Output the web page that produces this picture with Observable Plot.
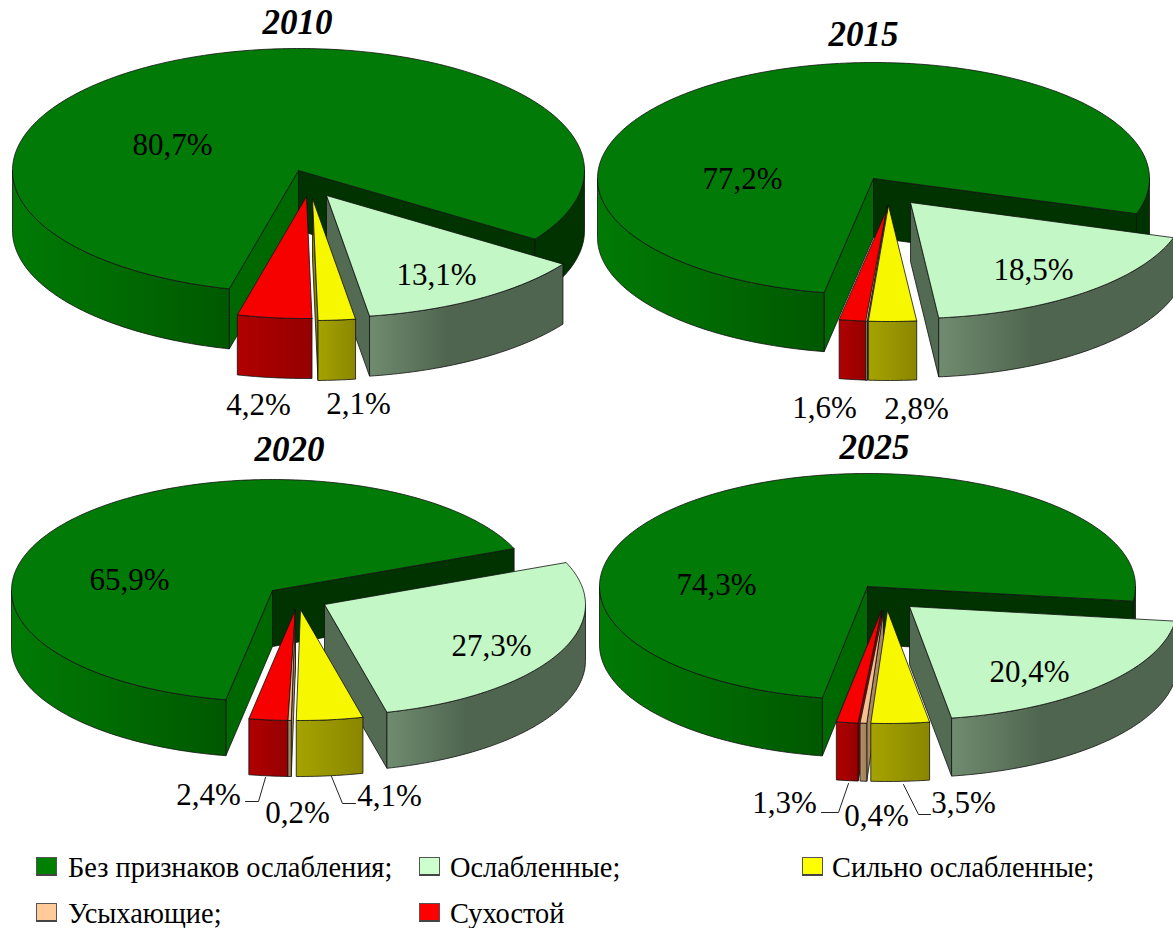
<!DOCTYPE html>
<html><head><meta charset="utf-8">
<script src="https://cdn.jsdelivr.net/npm/d3@7"></script>
<script src="https://cdn.jsdelivr.net/npm/@observablehq/plot@0.6"></script>
<style>
html,body{margin:0;padding:0;background:#fff}
#wrap{position:relative;width:1173px;height:928px;overflow:hidden;font-family:"Liberation Serif",serif;color:#000}
#chart{position:absolute;left:0;top:0}
.lg{position:absolute;font-size:28.4px;line-height:30px;white-space:nowrap;transform-origin:0 50%}
.sw{position:absolute;width:21px;height:19px;box-sizing:border-box;border:1px solid #555;border-bottom:2px solid #444}
</style></head><body>
<div id="wrap"><div id="chart"></div></div>
<script>
// ---- data ----
const categories = ["Без признаков ослабления","Ослабленные","Сильно ослабленные","Усыхающие","Сухостой"];
const legendLabels = ["Без признаков ослабления;","Ослабленные;","Сильно ослабленные;","Усыхающие;","Сухостой"];
const years = ["2010","2015","2020","2025"];
const values2010 = [80.7,13.1,2.1,0,4.2];
const values2015 = [77.2,18.5,2.8,0.1,1.6];
const values2020 = [65.9,27.3,4.1,0.2,2.4];
const values2025 = [74.3,20.4,3.5,0.4,1.3];
const valuesByYear = [values2010,values2015,values2020,values2025];
const showLabel = [[1,1,1,0,1],[1,1,1,0,1],[1,1,1,1,1],[1,1,1,1,1]];

// ---- styles ----
const topColors = ["#027a07","#c3f7c5","#f7f700","#f5c08f","#f70000"];
const legendColors = ["#008000","#ccffcc","#ffff00","#ffcc99","#ff0000"];
const faceColors = ["#006800","#526b52","#8a8700","#a98860","#950000"];
const wallGradients = [
  ["wall0",["#007a05","#006a02","#005800"],[0,.5,1]],
  ["wall1",["#708c70","#4f654f","#4f654f"],[0,.4,1]],
  ["wall2",["#a5a300","#8a8700"],[0,1]],
  ["wall3",["#b09068","#a08058"],[0,1]],
  ["wall4",["#b00000","#950000"],[0,1]]
];
const backFace = "#003300";

// ---- layout of the four pies (pixels) ----
const pies = [
 {cx:298,cy:170,rx:286,ry:122,depth:60,t0:104,
  offset:[[0,0],[28,25],[14,28],[11,26],[8,26]]},
 {cx:873,cy:178,rx:276,ry:116,depth:59,t0:100.3,
  offset:[[0,0],[37,24],[15,27],[14,27],[15,27]]},
 {cx:272,cy:590,rx:261,ry:111,depth:56,t0:100.3,
  offset:[[0,0],[52,14],[28,19],[23,19],[23,19]]},
 {cx:867,cy:586,rx:268,ry:113,depth:58,t0:99.7,
  offset:[[0,0],[42,20],[20,24],[16,24],[14,24]]}
];
const titlePos = [[297,22],[863,34],[289,449],[874,447]];
const labelPos = [
 [[172,145],[436,275],[358,404],null,[258,405]],
 [[742,179],[1033,270],[916,409],null,[824,408]],
 [[129,580],[491,646],[389,796],[297,813],[208,795]],
 [[716,585],[1029,672],[963,803],[876,816],[784,803]]
];
const leaderLines = [
 [[265,777],[258,801],[245,801]],
 [[331,776],[342,803],[355,803]],
 [[848,783],[838,812],[821,812]],
 [[903,784],[918,814],[930,814]]
];
const legendPos = [[36,857,68],[419,857,450],[802,857,832],[36,903,68],[419,903,450]];

// ---- geometry built from the values ----
const rad = d => d*Math.PI/180;
const polys = [];
let pid = 0;
function add(pts, fill){ const id = pid++; pts.forEach(p => polys.push({id, fill, x:p[0], y:p[1]})); }
function arc(ax,ay,rx,ry,a,b,dy=0){ const n = Math.max(2,Math.ceil(Math.abs(b-a))+1), out=[];
  for(let i=0;i<n;i++){ const t=rad(a+(b-a)*i/(n-1)); out.push([ax+rx*Math.cos(t), ay+ry*Math.sin(t)+dy]); } return out; }

pies.forEach((p,pi)=>{
  const vals = valuesByYear[pi], total = d3.sum(vals);
  let t = p.t0;
  const spans = vals.map(v=>{ const a=t; t+=v/total*360; return [a,t]; });
  [0,1,4,3,2].forEach(c=>{
    if(vals[c]===0) return;
    const [t1,t2]=spans[c], ax=p.cx+p.offset[c][0], ay=p.cy+p.offset[c][1], {rx,ry,depth}=p;
    const face = tt => { const e=arc(ax,ay,rx,ry,tt,tt)[0];
      return [[ax,ay],e,[e[0],e[1]+depth],[ax,ay+depth],[ax,ay]]; };
    if(Math.cos(rad(t2))>0) add(face(t2), c===0?backFace:faceColors[c]);
    if(Math.cos(rad(t1))<0) add(face(t1), faceColors[c]);
    for(const k of [-360,0,360]){
      const a=Math.max(t1,k), b=Math.min(t2,k+180);
      if(b>a){
        const tp=arc(ax,ay,rx,ry,a,b), bt=arc(ax,ay,rx,ry,a,b,depth).reverse();
        const fill = (c===0 && a>=360) ? backFace : `url(#wall${c})`;
        add([...tp,...bt,tp[0]], fill);
      }
    }
    const a0=arc(ax,ay,rx,ry,t1,t2);
    add([[ax,ay],...a0,[ax,ay]], topColors[c]);
  });
});

const labels = [];
valuesByYear.forEach((vals,pi)=>vals.forEach((v,c)=>{
  if(showLabel[pi][c]) labels.push({x:labelPos[pi][c][0],y:labelPos[pi][c][1],text:v.toFixed(1).replace(".",",")+"%"});
}));
const titles = years.map((y,i)=>({x:titlePos[i][0],y:titlePos[i][1],text:y}));
const leaders = leaderLines.flatMap((l,i)=>l.map(q=>({id:i,x:q[0],y:q[1]})));

const defs = () => {
  const d = d3.create("svg:defs");
  wallGradients.forEach(([id,cols,offs])=>{
    const g=d.append("linearGradient").attr("id",id).attr("x1",0).attr("x2",1).attr("y1",0).attr("y2",0);
    cols.forEach((c,i)=>g.append("stop").attr("offset",offs[i]).attr("stop-color",c));
  });
  return d.node();
};

const plot = Plot.plot({
  width:1173,height:840,margin:0,
  style:{background:"transparent",overflow:"visible"},
  x:{domain:[0,1173],range:[0,1173],axis:null},
  y:{domain:[0,840],range:[0,840],axis:null},
  color:{type:"identity"},
  marks:[
    defs,
    Plot.line(polys,{x:"x",y:"y",z:"id",fill:"fill",stroke:"#111",strokeWidth:0.8,curve:"linear",strokeLinejoin:"round"}),
    Plot.line(leaders,{x:"x",y:"y",z:"id",stroke:"#222",strokeWidth:1}),
    Plot.text(labels,{x:"x",y:"y",text:"text",fontSize:31,fontFamily:"Liberation Serif",fill:"#000",stroke:"none"}),
    Plot.text(titles,{x:"x",y:"y",text:"text",fontSize:35,fontFamily:"Liberation Serif",fontWeight:"bold",fontStyle:"italic",fill:"#000",stroke:"none"})
  ]
});
document.getElementById("chart").appendChild(plot);

const wrap=document.getElementById("wrap");
legendLabels.forEach((t,i)=>{
  const [sx,sy,tx]=legendPos[i];
  const s=document.createElement("div"); s.className="sw"; s.style.left=sx+"px"; s.style.top=sy+"px"; s.style.background=legendColors[i]; wrap.appendChild(s);
  const l=document.createElement("div"); l.className="lg"; l.style.left=tx+"px"; l.style.top=(sy-4)+"px"; l.textContent=t; wrap.appendChild(l);
});
</script></body></html>
